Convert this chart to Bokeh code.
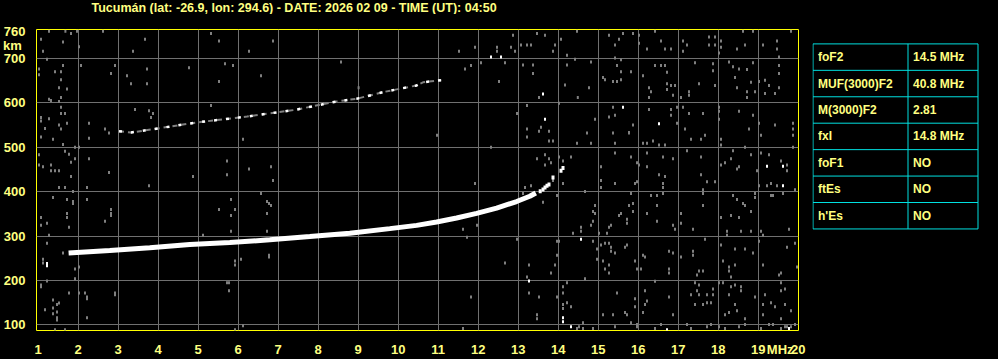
from bokeh.plotting import figure
from bokeh.models import Range1d, FixedTicker
from bokeh.layouts import row, column
from bokeh.embed import file_html
from bokeh.resources import INLINE
from bokeh.core.properties import value

TITLE = "Tucumán (lat: -26.9, lon: 294.6) - DATE: 2026 02 09 - TIME (UT): 04:50"
freq_ticks = list(range(1, 21))
height_ticks = [100, 200, 300, 400, 500, 600, 700, 760]
grid_heights = [100, 200, 300, 400, 500, 600, 700]
unit_tick_h = 730     # where the "km" unit sits on the height axis
unit_tick_f = 19.55   # where the "MHz" unit sits on the frequency axis

# main F2 trace (virtual height, km) vs frequency (MHz)
f2_freq = [1.76, 2.79, 3.79, 4.79, 5.79, 6.79, 7.79, 8.79, 9.79, 10.46, 10.96, 11.46, 11.96, 12.46, 12.96, 13.29, 13.44]
f2_height = [261.6, 267.6, 273.5, 281, 285.4, 291.4, 298.8, 306.3, 316.7, 324, 331.6, 340.5, 350.9, 362.8, 377.7, 389.6, 397]

# cusp / x-trace tail echoes
tail_freq = [13.55, 13.62, 13.67, 13.72, 13.77, 13.87, 14.07, 14.12]
tail_height = [401, 405, 409, 413, 416, 432, 447, 453]

# second hop trace
f2m_freq = [3.02, 3.32, 4.12, 4.99, 6.22, 7.42, 8.46, 8.96, 9.62, 10.12, 10.46, 10.62, 10.96, 11.08]
f2m_height = [536, 533, 544, 556, 569, 584, 603, 609, 624, 633, 639, 646, 650, 651]

# scattered weak echoes (grey)
noise_freq = [
    1.27, 1.68, 1.82, 1.97, 2.62, 1.07, 1.62, 2.02, 1.12, 3.37, 3.67, 5.32, 5.52, 6.27, 6.87, 1.22, 1.62, 2.07, 2.92, 1.02,
    1.02, 1.42, 1.57, 3.72, 2.82, 3.22, 4.77, 5.67, 5.87, 6.57, 8.57, 1.57, 3.32, 3.72, 5.52, 1.52, 1.72, 1.57, 1.27, 1.52,
    1.32, 9.01, 3.42, 3.77, 3.87, 3.82, 5.32, 1.57, 1.57, 1.67, 1.07, 1.27, 1.07, 1.72, 1.52, 1.17, 2.27, 2.67, 2.77, 1.57,
    1.07, 1.37, 2.27, 6.12, 1.62, 1.92, 2.02, 1.67, 1.77, 1.92, 1.82, 2.27, 1.02, 1.12, 1.32, 1.32, 1.42, 1.52, 1.82, 2.77,
    4.87, 5.72, 5.72, 6.27, 6.82, 1.02,
    12.87, 13.47, 13.67, 14.07, 14.47, 15.27, 15.52, 15.62, 15.87, 16.02, 16.42, 17.12, 17.77, 17.92, 18.07, 18.62, 18.87,
    19.47, 19.82, 11.52, 11.92, 12.47, 12.47, 12.82, 12.92, 13.07, 13.22, 13.32, 13.92, 13.87, 14.22, 15.42, 16.02, 16.22,
    16.57, 16.67, 16.82, 17.12, 17.22, 17.77, 17.92, 18.07, 18.02, 18.47, 18.67, 19.12, 19.47, 19.52, 12.07, 11.67, 11.82,
    12.67, 13.12, 13.37, 13.37, 14.22, 14.42, 14.82, 15.42, 15.57, 15.47, 15.57, 15.82, 16.42, 16.57, 16.67, 16.72, 17.42,
    17.87, 17.87, 18.27, 18.37, 18.52, 18.72, 18.87, 19.52, 19.52, 12.52, 14.17, 13.52, 14.49, 14.77, 15.12, 15.17, 15.37,
    15.47, 15.57, 16.12, 16.27, 16.32, 16.27, 16.72, 16.82, 16.92, 16.72, 16.87, 17.07, 17.27, 17.27, 17.52, 17.92, 18.42,
    18.47, 18.72, 18.92, 18.82, 19.02, 19.17, 19.27, 19.17, 19.52, 18.72, 19.42, 15.37, 13.22, 12.97, 14.02, 14.92, 15.27,
    15.42, 15.87, 15.77, 16.27, 16.82, 16.97, 17.12, 16.82, 16.97, 17.17, 17.27, 17.62, 18.02, 18.02, 18.02, 18.52, 18.87,
    19.02, 18.77, 19.42, 19.87, 19.87, 19.87, 19.07, 13.22, 13.57, 13.52, 13.77, 13.22, 13.77, 13.87, 14.47, 14.72, 14.82,
    15.37, 15.42, 15.77, 16.12, 16.22, 16.37, 16.52, 16.67, 17.32, 17.57, 17.67, 18.07, 18.07, 18.67, 19.87, 10.97, 12.32,
    13.67, 13.77, 13.82, 13.47, 13.67, 14.02, 14.12, 14.32, 15.07, 15.42, 15.82, 15.97, 16.02, 16.22, 16.22, 16.62, 16.87,
    17.22, 17.57, 18.07, 18.17, 18.32, 18.37, 18.47, 18.82, 19.07, 18.97, 19.27, 19.57, 19.72, 19.72, 16.52, 16.67, 17.57,
    18.52,
    1.52, 1.67, 1.87, 2.22, 1.37, 1.72, 1.87, 1.87, 2.22, 3.77, 1.07, 1.22, 1.07, 1.72, 1.72, 1.77, 2.82, 2.82, 2.82, 2.67,
    1.27, 1.22, 1.62, 1.12, 1.12, 1.92, 2.02, 1.92, 1.22, 1.07, 1.07, 1.77, 2.02, 2.17, 2.22, 2.22, 2.92, 2.92, 1.37, 1.47,
    1.52, 1.17, 1.37, 1.47, 1.37, 1.47, 1.47, 2.22, 1.42, 1.67, 5.12, 5.52, 5.82, 5.92, 5.82, 5.82, 6.57, 6.72, 6.77, 6.82,
    6.72, 6.72, 6.87, 5.92, 5.92, 6.07, 6.77, 6.77, 5.72, 5.77, 5.77, 6.12, 5.92,
    11.92, 13.17, 13.32, 13.12, 13.62, 13.87, 14.12, 13.97, 14.67, 15.07, 15.07, 15.42, 15.82, 15.92, 15.97, 16.32, 16.47,
    16.62, 16.62, 16.62, 16.47, 17.72, 17.62, 17.62, 17.92, 18.37, 18.62, 18.67, 18.47, 18.82, 18.92, 18.92, 19.02, 19.22,
    19.32, 19.32, 19.37, 19.47, 19.62, 19.92, 11.62, 11.72, 11.97, 12.97, 14.57, 14.57, 14.37, 14.82, 14.87, 14.87, 14.92,
    14.92, 15.02, 15.22, 15.27, 15.32, 15.57, 15.52, 15.72, 15.72, 15.87, 15.87, 15.77, 16.22, 16.47, 16.87, 16.92, 17.07,
    17.07, 17.37, 17.62, 17.67, 18.07, 18.22, 18.22, 18.32, 18.52, 18.57, 18.82, 19.02, 19.07, 19.12, 19.77, 13.97, 14.02,
    13.97, 13.92, 14.87, 14.97, 14.97, 15.07, 15.17, 15.27, 15.32, 15.32, 15.42, 15.27, 15.12, 15.17, 15.27, 15.72, 15.67,
    15.92, 16.12, 16.17, 15.97, 16.07, 16.77, 16.87, 16.77, 16.77, 17.07, 17.37, 17.37, 17.52, 17.62, 17.47, 18.07, 18.12,
    18.27, 18.27, 18.32, 18.42, 18.42, 18.67, 18.87, 19.12, 19.52, 19.57, 19.72, 19.92, 19.97, 12.67, 13.27, 13.22, 13.82,
    14.67, 13.27, 11.82, 13.52, 13.97, 14.12, 14.22, 14.12, 14.22, 14.12, 14.12, 14.32, 13.47, 13.47, 15.12, 15.37, 15.47,
    15.67, 15.72, 15.92, 15.92, 16.17, 16.17, 16.22, 16.12, 16.42, 16.77, 16.87, 17.42, 17.52, 17.32, 17.52, 17.47, 17.72,
    17.72, 17.87, 17.87, 17.82, 17.62, 17.42, 18.02, 18.12, 18.27, 18.32, 18.42, 18.57, 18.57, 18.17, 18.42, 18.47, 18.27,
    18.67, 18.92, 19.17, 19.12, 19.32, 19.42, 19.57, 19.57, 19.67, 19.67, 19.12, 19.57, 19.82, 14.62, 14.62, 14.47, 14.52,
    14.87, 15.42, 15.82, 15.97, 15.97, 16.42, 16.57, 17.22, 17.32, 17.72, 17.82, 18.02, 18.17, 18.52, 18.67, 19.07, 19.27,
    19.37, 19.57, 19.67, 19.72, 19.82, 19.92, 11.62,
]
noise_height = [
    761, 761, 756, 761, 761, 743, 737, 726, 716, 716, 743, 756, 739, 716, 739, 698, 684, 684, 684, 676,
    663, 670, 670, 676, 666, 661, 679, 688, 684, 661, 692, 652, 643, 643, 648, 634, 631, 612, 608, 603,
    605, 634, 585, 582, 576, 567, 594, 590, 576, 576, 567, 564, 559, 554, 550, 542, 554, 541, 532, 541,
    523, 518, 520, 518, 506, 500, 500, 491, 484, 474, 466, 474, 460, 456, 460, 447, 447, 447, 434, 443,
    434, 469, 438, 451, 456, 483,
    752, 756, 752, 743, 761, 752, 743, 756, 756, 752, 761, 739, 748, 748, 739, 761, 761,
    739, 761, 716, 725, 725, 716, 725, 716, 730, 730, 730, 730, 716, 707, 730, 734, 721,
    739, 721, 721, 716, 730, 730, 730, 725, 712, 721, 730, 730, 721, 703, 690, 676, 684,
    690, 685, 685, 666, 685, 698, 692, 701, 697, 684, 670, 670, 684, 684, 684, 669, 690,
    688, 672, 692, 681, 676, 675, 690, 684, 666, 648, 640, 612, 612, 634, 657, 652, 648,
    648, 652, 661, 634, 625, 612, 643, 639, 639, 630, 617, 612, 625, 617, 643, 639, 657,
    634, 625, 625, 646, 648, 651, 639, 621, 634, 612, 621, 590, 594, 576, 599, 563, 568,
    572, 550, 533, 585, 585, 590, 590, 572, 554, 541, 576, 576, 590, 581, 563, 581, 572,
    554, 541, 550, 554, 541, 527, 527, 541, 545, 536, 536, 523, 514, 514, 509, 532, 509,
    532, 509, 532, 509, 509, 514, 505, 505, 518, 518, 527, 518, 505, 500, 500, 527, 500,
    483, 474, 465, 474, 460, 478, 469, 478, 456, 487, 478, 465, 460, 456, 487, 478, 474,
    492, 478, 460, 465, 474, 492, 451, 483, 487, 447, 483, 469, 460, 447, 438, 434, 438,
    456,
    409, 409, 400, 409, 387, 382, 378, 373, 382, 413, 342, 329, 324, 351, 342, 320, 360, 351, 346, 333,
    302, 284, 262, 248, 239, 226, 230, 204, 199, 190, 186, 172, 172, 172, 163, 159, 172, 168, 156, 146,
    149, 134, 138, 129, 125, 116, 111, 116, 89, 89, 302, 360, 382, 360, 346, 311, 396, 378, 373, 369,
    351, 311, 425, 244, 235, 248, 257, 253, 195, 195, 177, 98, 89,
    418, 409, 413, 396, 376, 425, 418, 391, 400, 409, 425, 418, 396, 418, 422, 391, 391,
    418, 409, 396, 369, 422, 404, 396, 422, 391, 373, 369, 382, 355, 396, 387, 413, 413,
    418, 391, 391, 413, 396, 404, 315, 297, 324, 293, 320, 311, 306, 324, 355, 333, 369,
    351, 306, 306, 320, 324, 351, 346, 338, 329, 373, 355, 369, 351, 333, 324, 315, 351,
    329, 315, 369, 293, 342, 311, 302, 346, 342, 311, 311, 288, 311, 302, 315, 288, 288,
    257, 235, 288, 271, 248, 280, 284, 284, 275, 266, 262, 235, 244, 226, 217, 280, 275,
    244, 257, 253, 226, 226, 266, 262, 226, 217, 253, 266, 257, 221, 221, 212, 280, 244,
    230, 221, 208, 271, 235, 271, 262, 235, 212, 217, 275, 284, 230, 239, 235, 208, 217,
    204, 172, 163, 163, 163, 172, 195, 186, 150, 146, 137, 141, 123, 114, 123, 123, 172,
    128, 123, 159, 141, 177, 146, 154, 128, 198, 163, 123, 195, 190, 168, 168, 177, 168,
    150, 181, 168, 150, 146, 146, 195, 195, 168, 186, 190, 186, 177, 123, 146, 132, 128,
    114, 163, 168, 146, 150, 141, 195, 177, 181, 146, 123, 114, 132, 105, 92, 92, 96,
    92, 96, 105, 101, 96, 92, 101, 101, 92, 96, 101, 96, 92, 96, 101, 92, 101,
    101, 92, 96, 96, 96, 101, 92,
]

# isolated strong echoes (white)
spot_freq = [12.32, 12.57, 13.62, 13.67, 15.62, 16.52, 19.22, 19.62, 1.22, 1.22, 14.57, 13.27, 14.12, 14.12, 14.32, 16.72, 19.62, 19.77]
spot_height = [703, 703, 620, 563, 590, 553, 457, 457, 238, 233, 293, 199, 116, 107, 96, 89, 413, 92]

# scaled parameters table
param_names = ["foF2", "MUF(3000)F2", "M(3000)F2", "fxI", "foF1", "ftEs", "h'Es"]
param_values = ["14.5 MHz", "40.8 MHz", "2.81", "14.8 MHz", "NO", "NO", "NO"]

YEL = "#ffff00"
TXT = "#ffff80"
GRID = "#707070"
NOISE = "#808080"
CYAN = "#00e0e0"
FONT = "Liberation Sans"

# ---- title strip (full width, 14 px) ----
top_fig = figure(width=998, height=14, x_range=Range1d(0, 998), y_range=Range1d(14, 0), title=None,
                 output_backend="svg", toolbar_location=None, x_axis_type=None, y_axis_type=None,
                 min_border=0, background_fill_color="black", border_fill_color="black",
                 outline_line_color=None)
top_fig.grid.visible = False
top_fig.text(x=[91], y=[7], text=[TITLE], text_color=TXT, text_font=value(FONT),
             text_font_style="bold", text_font_size="12.5px", text_baseline="middle", text_align="left")

# ---- ionogram ----
p = figure(width=812, height=345, x_range=Range1d(0.9575, 20.0075), y_range=Range1d(87.3, 765.0), title=None,
           output_backend="svg", toolbar_location=None,
           min_border_left=36, min_border_right=14, min_border_top=15, min_border_bottom=26,
           background_fill_color="black", border_fill_color="black",
           outline_line_color=YEL, outline_line_width=1)

p.xaxis.ticker = FixedTicker(ticks=freq_ticks + [unit_tick_f])
p.xaxis.major_label_overrides = {unit_tick_f: "MHz"}
p.yaxis.ticker = FixedTicker(ticks=height_ticks + [unit_tick_h])
p.yaxis.major_label_overrides = {unit_tick_h: "km\u00a0"}
for ax in (p.xaxis[0], p.yaxis[0]):
    ax.axis_line_color = None
    ax.major_tick_line_color = None
    ax.minor_tick_line_color = None
    ax.major_label_text_color = TXT
    ax.major_label_text_font = FONT
    ax.major_label_text_font_style = "bold"
    ax.major_label_text_font_size = "13px"
p.xaxis.major_label_standoff = 5
p.yaxis.major_label_standoff = 5

p.xgrid.ticker = FixedTicker(ticks=freq_ticks[1:-1])
p.ygrid.ticker = FixedTicker(ticks=grid_heights)
p.xgrid.grid_line_color = GRID
p.ygrid.grid_line_color = GRID

p.rect(noise_freq, noise_height, width=2, height=3, width_units="screen", height_units="screen",
       fill_color=NOISE, line_color=None)
p.line(f2m_freq, f2m_height, line_color=NOISE, line_width=2, line_dash="5 4")
p.line(f2m_freq, f2m_height, line_color="white", line_width=2.5, line_dash="3 9")
p.line(f2_freq, f2_height, line_color="white", line_width=5)
p.rect(tail_freq, tail_height, width=3, height=4, width_units="screen", height_units="screen",
       fill_color="white", line_color=None)
p.rect(spot_freq, spot_height, width=2, height=3, width_units="screen", height_units="screen",
       fill_color="white", line_color=None)

# ---- parameter table ----
t = figure(width=186, height=345, x_range=Range1d(812, 998), y_range=Range1d(359, 14), title=None,
           output_backend="svg", toolbar_location=None, x_axis_type=None, y_axis_type=None,
           min_border=0, background_fill_color="black", border_fill_color="black",
           outline_line_color=None)
t.grid.visible = False
n = len(param_names)
top, rh, left, mid, right = 30.5, 30.3, 812.5, 907.5, 977.5
ys = [top + i * rh for i in range(n + 1)]
t.segment(x0=[left] * (n + 1), y0=ys, x1=[right] * (n + 1), y1=ys, line_color=CYAN, line_width=1)
t.segment(x0=[left, mid, right], y0=[ys[0]] * 3, x1=[left, mid, right], y1=[ys[-1]] * 3,
          line_color=CYAN, line_width=1)
centers = [top + (i + 0.5) * rh for i in range(n)]
t.text(x=[left + 5] * n, y=centers, text=param_names, text_color=TXT, text_font=value(FONT),
       text_font_style="bold", text_font_size="12px", text_baseline="middle", text_align="left")
t.text(x=[mid + 5] * n, y=centers, text=param_values, text_color=TXT, text_font=value(FONT),
       text_font_style="bold", text_font_size="12px", text_baseline="middle", text_align="left")

layout = column(top_fig, row(p, t))
html = file_html(layout, INLINE)
html = html.replace("<head>", "<head><style>body{margin:0;background:#000;}</style>", 1)
open("out.html", "w").write(html)
